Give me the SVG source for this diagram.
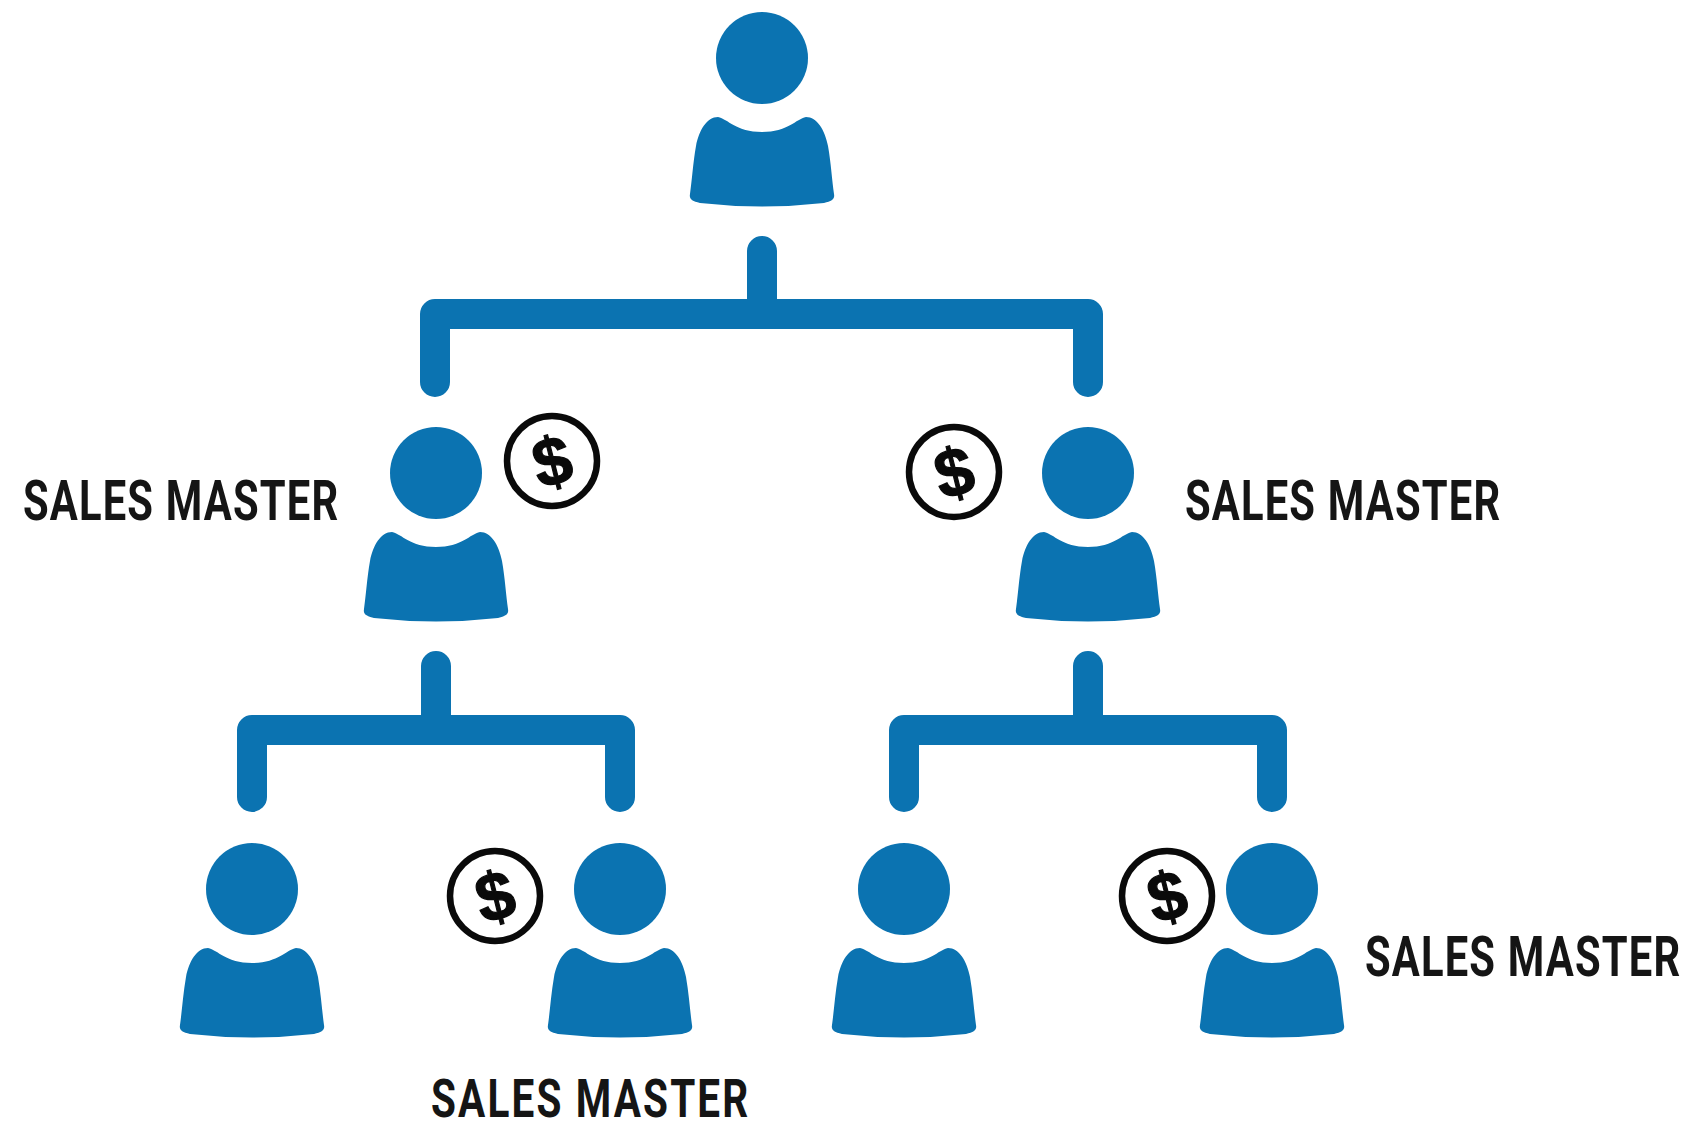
<svg xmlns="http://www.w3.org/2000/svg" width="1687" height="1131" viewBox="0 0 1687 1131">
<style>
.b{fill:#0b73b1}
.c{fill:none;stroke:#0b73b1;stroke-width:30;stroke-linecap:round;stroke-linejoin:round}
.k{fill:#fff;stroke:#0a0a0a;stroke-width:6.5}
.d{font-family:"Liberation Sans",Arial,sans-serif;font-weight:700;font-size:68px;fill:#0a0a0a;stroke:#0a0a0a;stroke-width:1.2;text-anchor:middle}
.t{font-family:"Roboto","Liberation Sans",sans-serif;font-weight:700;font-size:56px;fill:#151515}
</style>
<defs>
<g id="p">
<circle class="b" cx="0" cy="0" r="46"/>
<path class="b" d="M-44 59C-34 61 -26 74 0 74C26 74 34 61 44 59C55 59 63 72 66 88C69 105 70 122 72 136C73 141 70 143 62 145Q0 152 -62 145C-70 143 -73 141 -72 136C-70 122 -69 105 -66 88C-63 72 -55 59 -44 59Z"/>
</g>
</defs>
<rect width="1687" height="1131" fill="#fff"/>
<g id="connectors">
<path class="c" d="M762 251V314M435 382V314H1088V382"/>
<path class="c" d="M436 666V730M252 797V730H620V797"/>
<path class="c" d="M1088 666V730M904 797V730H1272V797"/>
</g>
<g id="n-top"><use href="#p" x="762" y="58"/></g>
<g id="n-mid-left"><use href="#p" x="436" y="473"/><circle class="k" cx="552" cy="461" r="45"/><text class="d" x="552" y="485" transform="rotate(-14 552 461)">$</text></g>
<g id="n-mid-right"><use href="#p" x="1088" y="473"/><circle class="k" cx="954" cy="472" r="45"/><text class="d" x="954" y="496" transform="rotate(-14 954 472)">$</text></g>
<g id="n-bl1"><use href="#p" x="252" y="889"/></g>
<g id="n-bl2"><use href="#p" x="620" y="889"/><circle class="k" cx="495" cy="896" r="45"/><text class="d" x="495" y="920" transform="rotate(-14 495 896)">$</text></g>
<g id="n-br1"><use href="#p" x="904" y="889"/></g>
<g id="n-br2"><use href="#p" x="1272" y="889"/><circle class="k" cx="1167" cy="896" r="45"/><text class="d" x="1167" y="920" transform="rotate(-14 1167 896)">$</text></g>
<g id="labels">
<text class="t" transform="translate(23 520) scale(.745 1)" textLength="423" lengthAdjust="spacing">SALES MASTER</text>
<text class="t" transform="translate(1185 520) scale(.745 1)" textLength="423" lengthAdjust="spacing">SALES MASTER</text>
<text class="t" transform="translate(1365 976) scale(.745 1)" textLength="423" lengthAdjust="spacing">SALES MASTER</text>
<text class="t" style="font-size:54px" transform="translate(431 1117) scale(.75 1)" textLength="423" lengthAdjust="spacing">SALES MASTER</text>
</g>
</svg>
